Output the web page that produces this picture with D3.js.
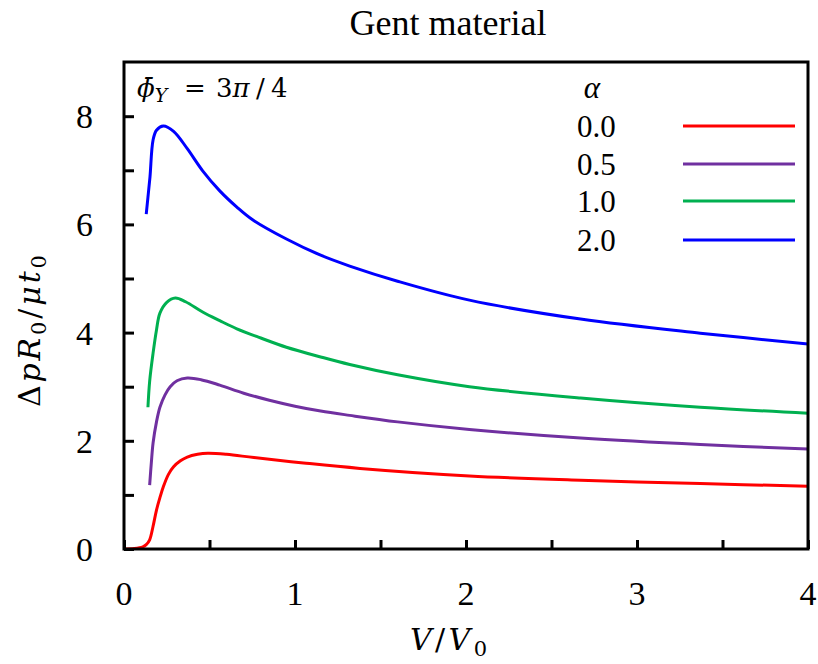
<!DOCTYPE html>
<html><head><meta charset="utf-8">
<script src="https://cdn.jsdelivr.net/npm/d3@7/dist/d3.min.js"></script>
<style>body{margin:0;background:#fff}svg{display:block}</style>
</head><body>
<svg id="chart" width="818" height="664"></svg>
<script>
// ---- data ----
const alphaLabels = ["0.0", "0.5", "1.0", "2.0"];
const seriesColors = ["#ff0000", "#7030a0", "#00b050", "#0000ff"];

const vRed = [0, 0.06, 0.11, 0.13, 0.15, 0.17, 0.19, 0.21, 0.23, 0.26, 0.29, 0.33, 0.37, 0.43, 0.49, 0.6, 0.76, 1.05, 1.38, 2.02, 2.67, 3.37, 4.0];
const pRed = [0, 0.01, 0.04, 0.08, 0.17, 0.42, 0.72, 0.95, 1.15, 1.38, 1.52, 1.63, 1.70, 1.75, 1.77, 1.75, 1.69, 1.59, 1.49, 1.35, 1.27, 1.21, 1.16];

const vPurple = [0.15, 0.16, 0.17, 0.19, 0.21, 0.24, 0.27, 0.31, 0.37, 0.45, 0.56, 0.7, 0.85, 1.0, 1.15, 1.32, 1.6, 2.02, 2.67, 3.37, 4.0];
const pPurple = [1.18, 1.6, 1.96, 2.35, 2.62, 2.85, 3.0, 3.11, 3.16, 3.13, 3.03, 2.88, 2.75, 2.64, 2.55, 2.47, 2.35, 2.21, 2.05, 1.93, 1.85];

const vGreen = [0.14, 0.15, 0.17, 0.19, 0.21, 0.25, 0.30, 0.36, 0.46, 0.56, 0.66, 0.8, 0.95, 1.15, 1.32, 1.6, 2.02, 2.67, 3.37, 4.0];
const pGreen = [2.62, 3.1, 3.62, 4.05, 4.36, 4.56, 4.64, 4.57, 4.38, 4.22, 4.07, 3.90, 3.73, 3.55, 3.41, 3.22, 3.0, 2.79, 2.62, 2.51];

const vBlue = [0.13, 0.14, 0.152, 0.17, 0.19, 0.23, 0.29, 0.37, 0.46, 0.56, 0.66, 0.75, 0.95, 1.15, 1.32, 1.6, 2.02, 2.67, 3.37, 4.0];
const pBlue = [6.19, 6.5, 6.88, 7.56, 7.74, 7.82, 7.72, 7.40, 6.99, 6.62, 6.32, 6.09, 5.73, 5.43, 5.23, 4.95, 4.60, 4.25, 3.99, 3.79];

const xTicks = [0, 1, 2, 3, 4];
const xMinorTicks = [0.5, 1.5, 2.5, 3.5];
const yTicks = [0, 2, 4, 6, 8];
const yMinorTicks = [1, 3, 5, 7];

// ---- layout ----
const svg = d3.select("#chart");
const L = 124, R = 808, T = 62, B = 549;
const x = d3.scaleLinear().domain([0, 4]).range([L, R]);
const y = d3.scaleLinear().domain([0, 9]).range([B, B - 9 * 54.1]);

const serif = "'Liberation Serif','Times New Roman',serif";
const math = "'DejaVu Serif','Cambria Math',serif";

// title
svg.append("text").attr("x", 448).attr("y", 35).attr("text-anchor", "middle")
  .style("font-family", serif).style("font-size", "36px").text("Gent material");

// curves
const series = [
  {v: vRed, p: pRed}, {v: vPurple, p: pPurple}, {v: vGreen, p: pGreen}, {v: vBlue, p: pBlue}
];
const line = d3.line().x(d => x(d[0])).y(d => y(d[1])).curve(d3.curveCatmullRom.alpha(0.5));
svg.append("clipPath").attr("id", "clip").append("rect")
  .attr("x", L).attr("y", T).attr("width", R - L).attr("height", B - T);
series.forEach((s, i) => {
  const pts = s.v.map((v, j) => [v, s.p[j]]);
  svg.append("path").attr("d", line(pts)).attr("fill", "none")
    .attr("stroke", seriesColors[i]).attr("stroke-width", 3)
    .attr("clip-path", "url(#clip)");
});

// axes (ticks inward)
const gx = svg.append("g").attr("transform", `translate(0,${B})`)
  .call(d3.axisTop(x).tickValues(xTicks.concat(xMinorTicks)).tickSize(9).tickFormat(""));
const gy = svg.append("g").attr("transform", `translate(${L},0)`)
  .call(d3.axisRight(y).tickValues(yTicks.concat(yMinorTicks)).tickSize(10).tickFormat(""));
[gx, gy].forEach(g => {
  g.select(".domain").remove();
  g.selectAll(".tick line").attr("stroke", "#000").attr("stroke-width", 3);
});

// frame
svg.append("rect").attr("x", L).attr("y", T).attr("width", R - L).attr("height", B - T)
  .attr("fill", "none").attr("stroke", "#000").attr("stroke-width", 3);

// tick labels
svg.selectAll(".xl").data(xTicks).enter().append("text")
  .attr("x", d => x(d)).attr("y", 605).attr("text-anchor", "middle")
  .style("font-family", serif).style("font-size", "34px").text(d => d);
svg.selectAll(".yl").data(yTicks).enter().append("text")
  .attr("x", 93).attr("y", d => y(d) + 12).attr("text-anchor", "end")
  .style("font-family", serif).style("font-size", "34px").text(d => d);

// axis labels
const xl = svg.append("text").attr("x", 410).attr("y", 650)
  .attr("textLength", 77).attr("lengthAdjust", "spacing")
  .style("font-family", math).style("font-size", "30px");
xl.append("tspan").style("font-style", "italic").text("V");
xl.append("tspan").text("/");
xl.append("tspan").style("font-style", "italic").text("V");
xl.append("tspan").attr("dy", 6).style("font-size", "21px").text("0");

const yl = svg.append("text").attr("transform", "translate(40,407) rotate(-90)")
  .attr("textLength", 152).attr("lengthAdjust", "spacing")
  .style("font-family", math).style("font-size", "30px");
yl.append("tspan").text("Δ");
yl.append("tspan").style("font-style", "italic").text("pR");
yl.append("tspan").attr("dy", 6).style("font-size", "21px").text("0");
yl.append("tspan").attr("dy", -6).text("/");
yl.append("tspan").style("font-style", "italic").text("μt");
yl.append("tspan").attr("dy", 6).style("font-size", "21px").text("0");

// annotation  (bar-phi with subscript Y = 3π/4)
const an = svg.append("text").attr("x", 137).attr("y", 97)
  .style("font-family", math).style("font-size", "26px");
an.append("tspan").style("font-style", "italic").text("ϕ\u0304");
an.append("tspan").attr("dy", 5).style("font-size", "19px").style("font-style", "italic").text("Y");
an.append("tspan").attr("dy", -5).attr("x", 184).text("=");
an.append("tspan").attr("x", 216).text("3");
an.append("tspan").style("font-style", "italic").text("π");
an.append("tspan").attr("x", 256).text("/");
an.append("tspan").attr("x", 271).text("4");

// legend
svg.append("text").attr("x", 592).attr("y", 98).attr("text-anchor", "middle")
  .style("font-family", serif).style("font-size", "31px").style("font-style", "italic").text("α");
const legY = [126, 164, 201, 240];
alphaLabels.forEach((lab, i) => {
  svg.append("text").attr("x", 577).attr("y", legY[i] + 11)
    .style("font-family", serif).style("font-size", "31px").text(lab);
  svg.append("line").attr("x1", 683).attr("x2", 795).attr("y1", legY[i]).attr("y2", legY[i])
    .attr("stroke", seriesColors[i]).attr("stroke-width", 3);
});
</script>
</body></html>
